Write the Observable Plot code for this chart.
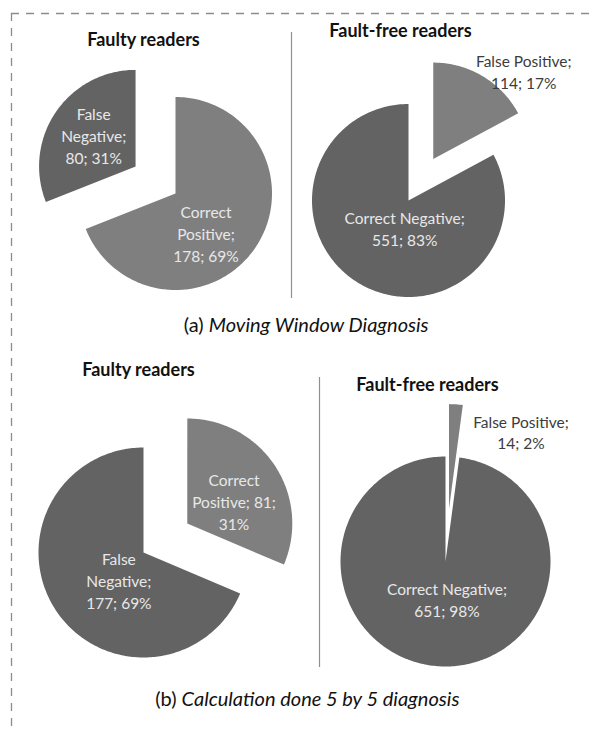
<!DOCTYPE html>
<html><head><meta charset="utf-8">
<script src="https://cdn.jsdelivr.net/npm/d3@7"></script>
<script src="https://cdn.jsdelivr.net/npm/@observablehq/plot@0.6"></script>
<style>body{margin:0;background:#fff}</style>
</head><body><div id="chart"></div>
<script>
// ---- data ----
const panelTitles = ["Faulty readers", "Fault-free readers", "Faulty readers", "Fault-free readers"];
const sliceNames = [
  ["Correct Positive", "False Negative"],
  ["False Positive", "Correct Negative"],
  ["Correct Positive", "False Negative"],
  ["False Positive", "Correct Negative"]
];
const sliceCounts = [[178, 80], [114, 551], [81, 177], [14, 651]];
const slicePercents = [[69, 31], [17, 83], [31, 69], [2, 98]];
const explodedSlice = ["False Negative", "False Positive", "Correct Positive", "False Positive"];
const captionPrefix = ["(a) ", "(b) "];
const captionText = ["Moving Window Diagnosis", "Calculation done 5 by 5 diagnosis"];
const colorDomain = ["Correct Positive", "False Negative", "False Positive", "Correct Negative"];

// ---- layout (pixels) ----
const W = 596, H = 731;
const FONT = "Lato, 'Open Sans', sans-serif";
const panelLayout = [
  {cx: 175, cy: 193, r: 96.5, title: [143, 40], wrap: 10,
   labelR: [0.52, 0.55], nudge: [[-11, 11], [2, -2]], outside: [false, false]},
  {cx: 408, cy: 200, r: 96.5, title: [400, 31], wrap: 17,
   labelR: [1.0, 0.3], nudge: [[41, -5], [11, 3]], outside: [true, false]},
  {cx: 143, cy: 552, r: 105, title: [138, 370], wrap: 13,
   labelR: [0.5, 0.35], nudge: [[3, 6], [6, 7]], outside: [false, false]},
  {cx: 445, cy: 561, r: 105, title: [427, 385], wrap: 17,
   labelR: [1.0, 0.36], nudge: [[65, 27], [4, 0]], outside: [true, false]}
];
const explodeFrac = 0.5;
const rowLayout = [
  {divider: {x: 291, y1: 32, y2: 298}, caption: [306, 325]},
  {divider: {x: 319, y1: 377, y2: 667}, caption: [307, 699]}
];

function wrapText(s, maxChars) {
  const words = s.split(" ");
  const lines = [];
  let cur = "";
  for (const w of words) {
    if (cur === "") cur = w;
    else if ((cur + " " + w).length <= maxChars) cur += " " + w;
    else { lines.push(cur); cur = w; }
  }
  if (cur) lines.push(cur);
  return lines.join("\n");
}

const slicePts = [];
const labels = [];
const titles = [];
sliceNames.forEach((names, p) => {
  const L = panelLayout[p];
  const rows = names.map((n, i) => ({name: n, count: sliceCounts[p][i], pct: slicePercents[p][i]}));
  const arcs = d3.pie().sort(null).value(d => d.count)(rows);
  arcs.forEach((a, i) => {
    const mid = (a.startAngle + a.endAngle) / 2;
    const off = a.data.name === explodedSlice[p] ? explodeFrac * L.r : 0;
    const ax = L.cx + off * Math.sin(mid), ay = L.cy - off * Math.cos(mid);
    const key = p + "-" + i;
    slicePts.push({key, name: a.data.name, x: ax, y: ay});
    const n = Math.max(4, Math.ceil((a.endAngle - a.startAngle) / (Math.PI / 180)));
    for (let k = 0; k <= n; k++) {
      const t = a.startAngle + (a.endAngle - a.startAngle) * k / n;
      slicePts.push({key, name: a.data.name, x: ax + L.r * Math.sin(t), y: ay - L.r * Math.cos(t)});
    }
    slicePts.push({key, name: a.data.name, x: ax, y: ay});
    const lr = L.labelR[i] * L.r;
    labels.push({
      x: ax + lr * Math.sin(mid) + L.nudge[i][0],
      y: ay - lr * Math.cos(mid) + L.nudge[i][1],
      text: wrapText(`${a.data.name}; ${a.data.count}; ${a.data.pct}%`, L.wrap),
      outside: L.outside[i]
    });
  });
  titles.push({x: L.title[0], y: L.title[1], text: panelTitles[p]});
});

// captions: measure text to center the mixed upright/italic run
const ctx = document.createElement("canvas").getContext("2d");
const CAP_SIZE = 20;
const capParts = [];
captionText.forEach((t, r) => {
  ctx.font = `${CAP_SIZE}px ${FONT}`;
  const w1 = ctx.measureText(captionPrefix[r]).width;
  ctx.font = `italic ${CAP_SIZE}px ${FONT}`;
  const w2 = ctx.measureText(t).width;
  const [cx, cy] = rowLayout[r].caption;
  const x0 = cx - (w1 + w2) / 2;
  capParts.push({x: x0, y: cy, text: captionPrefix[r], style: "normal"});
  capParts.push({x: x0 + w1, y: cy, text: t, style: "italic"});
});

const chart = Plot.plot({
  width: W, height: H, margin: 0,
  x: {domain: [0, W], range: [0, W], axis: null},
  y: {domain: [0, H], range: [0, H], axis: null},
  color: {domain: colorDomain, range: ["#7f7f7f", "#636363", "#7f7f7f", "#636363"]},
  style: {fontFamily: FONT, background: "#fff"},
  marks: [
    // dashed frame
    Plot.ruleY([13], {x1: 11, x2: W, stroke: "#8c8c8c", strokeWidth: 1.3, strokeDasharray: "8,7"}),
    Plot.ruleX([11], {y1: 13, y2: H, stroke: "#8c8c8c", strokeWidth: 1.3, strokeDasharray: "8,7"}),
    // dividers
    Plot.ruleX(rowLayout.map(d => d.divider), {x: "x", y1: "y1", y2: "y2", stroke: "#909090", strokeWidth: 1.2}),
    // slices
    Plot.line(slicePts, {x: "x", y: "y", z: "key", fill: "name", stroke: "none", curve: "linear"}),
    // slice labels
    Plot.text(labels.filter(d => !d.outside), {x: "x", y: "y", text: "text", fill: "#e8e8e8", fontSize: 15.5, lineHeight: 1.42, textAnchor: "middle"}),
    Plot.text(labels.filter(d => d.outside), {x: "x", y: "y", text: "text", fill: "#3c3c3c", fontSize: 15.5, lineHeight: 1.38, textAnchor: "middle"}),
    // panel titles
    Plot.text(titles, {x: "x", y: "y", text: "text", fill: "#111", fontSize: 18, fontWeight: "bold", textAnchor: "middle"}),
    // captions
    Plot.text(capParts.filter(d => d.style === "normal"), {x: "x", y: "y", text: "text", fill: "#111", fontSize: CAP_SIZE, textAnchor: "start"}),
    Plot.text(capParts.filter(d => d.style === "italic"), {x: "x", y: "y", text: "text", fill: "#111", fontSize: CAP_SIZE, fontStyle: "italic", textAnchor: "start"})
  ]
});
document.getElementById("chart").appendChild(chart);
</script>
</body></html>
